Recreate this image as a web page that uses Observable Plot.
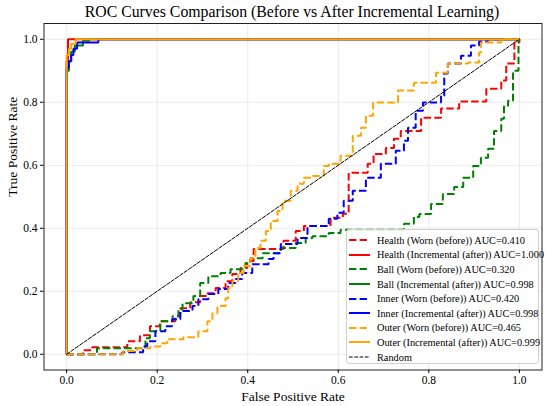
<!DOCTYPE html>
<html><head><meta charset="utf-8">
<script src="https://cdn.jsdelivr.net/npm/d3@7"></script>
<script src="https://cdn.jsdelivr.net/npm/@observablehq/plot@0.6"></script>
<style>
body{margin:0;background:#fff;font-family:"Liberation Serif","Times New Roman",serif;}
#wrap{position:relative;width:550px;height:406px;overflow:hidden;}
#title{height:22px;line-height:23px;text-align:center;font-size:15.8px;color:#000;padding-left:34px;box-sizing:border-box;white-space:nowrap;}
#legend{position:absolute;left:346px;top:229px;width:193px;height:135px;box-sizing:border-box;border:1px solid #d0d0d0;border-radius:3px;background:rgba(255,255,255,0.8);padding:3px 0 0 2px;}
.row{display:flex;align-items:center;height:14.6px;font-size:10.3px;color:#000;white-space:nowrap;}
.row svg{margin-right:7px;flex:none;}
</style></head><body>
<div id="wrap"><div id="title">ROC Curves Comparison (Before vs After Incremental Learning)</div><div id="chart"></div><div id="legend"></div></div>
<script>
// ROC points [FPR, TPR] (staircase corners, step-after)
const healthBefore = [[0,0],[0.036,0.013],[0.056,0.022],[0.134,0.041],[0.162,0.060],[0.184,0.089],[0.206,0.105],[0.240,0.121],[0.251,0.146],[0.273,0.165],[0.295,0.185],[0.311,0.194],[0.329,0.210],[0.351,0.232],[0.366,0.255],[0.384,0.274],[0.399,0.296],[0.413,0.334],[0.479,0.360],[0.506,0.391],[0.524,0.407],[0.583,0.433],[0.610,0.446],[0.623,0.576],[0.665,0.605],[0.678,0.636],[0.705,0.655],[0.723,0.684],[0.738,0.709],[0.783,0.751],[0.827,0.780],[0.867,0.802],[0.927,0.843],[0.960,0.869],[0.971,0.923],[0.989,0.990],[1,1]];
const healthAfter = [[0,0],[0,0.93],[0.003,1.0],[1,1]];
const ballBefore = [[0,0],[0.067,0.019],[0.174,0.051],[0.184,0.073],[0.207,0.105],[0.234,0.121],[0.247,0.143],[0.256,0.162],[0.280,0.185],[0.295,0.226],[0.313,0.248],[0.340,0.258],[0.362,0.270],[0.395,0.290],[0.406,0.305],[0.433,0.321],[0.473,0.337],[0.506,0.353],[0.528,0.369],[0.543,0.375],[0.579,0.385],[0.605,0.395],[0.745,0.414],[0.767,0.436],[0.779,0.445],[0.805,0.477],[0.831,0.509],[0.856,0.531],[0.876,0.560],[0.898,0.598],[0.915,0.624],[0.931,0.652],[0.944,0.709],[0.960,0.748],[0.966,0.789],[0.975,0.805],[0.986,0.900],[0.998,0.996],[1,1]];
const ballAfter = [[0,0],[0,0.90],[0.005,0.93],[0.010,0.96],[0.018,0.98],[0.036,0.995],[0.050,1.0],[1,1]];
const innerBefore = [[0,0],[0.123,0.006],[0.169,0.025],[0.178,0.041],[0.196,0.073],[0.218,0.089],[0.233,0.111],[0.251,0.137],[0.278,0.153],[0.291,0.175],[0.313,0.191],[0.335,0.207],[0.357,0.226],[0.373,0.239],[0.388,0.258],[0.410,0.286],[0.446,0.302],[0.457,0.321],[0.473,0.350],[0.510,0.369],[0.532,0.407],[0.579,0.430],[0.598,0.449],[0.612,0.487],[0.632,0.519],[0.661,0.560],[0.694,0.605],[0.727,0.646],[0.745,0.678],[0.754,0.719],[0.771,0.773],[0.787,0.799],[0.827,0.821],[0.834,0.891],[0.842,0.923],[0.871,0.948],[0.893,0.980],[0.911,0.993],[0.93,1.0],[1,1]];
const innerAfter = [[0,0],[0,0.91],[0.005,0.93],[0.010,0.95],[0.015,0.97],[0.023,0.99],[0.070,1.0],[1,1]];
const outerBefore = [[0,0],[0.125,0.010],[0.156,0.019],[0.185,0.025],[0.207,0.035],[0.222,0.048],[0.258,0.054],[0.291,0.073],[0.311,0.105],[0.322,0.130],[0.333,0.153],[0.351,0.178],[0.357,0.210],[0.366,0.232],[0.379,0.258],[0.391,0.280],[0.406,0.305],[0.417,0.337],[0.428,0.360],[0.440,0.391],[0.451,0.423],[0.466,0.455],[0.477,0.487],[0.495,0.519],[0.510,0.541],[0.524,0.560],[0.539,0.566],[0.568,0.598],[0.579,0.605],[0.605,0.630],[0.632,0.694],[0.650,0.719],[0.661,0.757],[0.677,0.799],[0.732,0.837],[0.767,0.862],[0.816,0.894],[0.842,0.923],[0.887,0.926],[0.911,0.958],[0.915,0.990],[0.960,1.0],[1,1]];
const outerAfter = [[0,0],[0,0.95],[0.005,0.97],[0.010,0.985],[0.020,1.0],[1,1]];
const randomLine = [[0,0],[1,1]];

const seriesNames = ["Health (Worn (before))","Health (Incremental (after))","Ball (Worn (before))","Ball (Incremental (after))","Inner (Worn (before))","Inner (Incremental (after))","Outer (Worn (before))","Outer (Incremental (after))"];
const aucValues = ["0.410","1.000","0.320","0.998","0.420","0.998","0.465","0.999"];
const seriesColors = ["#ff0000","#ff0000","#008000","#008000","#0000ff","#0000ff","#ffa500","#ffa500"];
const seriesPoints = [healthBefore,healthAfter,ballBefore,ballAfter,innerBefore,innerAfter,outerBefore,outerAfter];
const xTicks = [0,0.2,0.4,0.6,0.8,1.0];
const yTicks = [0,0.2,0.4,0.6,0.8,1.0];
const tickLabels = ["0.0","0.2","0.4","0.6","0.8","1.0"];
const fmt = (d,i) => tickLabels[xTicks.indexOf(d)] ?? (+d).toFixed(1);

const font = "Liberation Serif";
const marks = [
  Plot.gridX(xTicks,{stroke:"#e4e4e4",strokeOpacity:1,strokeWidth:0.8}),
  Plot.gridY(yTicks,{stroke:"#e4e4e4",strokeOpacity:1,strokeWidth:0.8}),
];
seriesPoints.forEach((pts,i)=>{
  const dashed = i%2===0;
  marks.push(Plot.line(pts,{x:d=>d[0],y:d=>d[1],curve:"step-after",stroke:seriesColors[i],strokeWidth:2,strokeDasharray:dashed?"7.4,3.2":null,strokeLinejoin:"miter",strokeLinecap:"butt"}));
});
marks.push(Plot.line(randomLine,{x:d=>d[0],y:d=>d[1],stroke:"#000",strokeWidth:1,strokeDasharray:"3.7,1.6"}));
marks.push(Plot.frame({stroke:"#222",strokeWidth:1}));
marks.push(Plot.axisX(xTicks,{tickFormat:fmt,tickSize:3.5,tickPadding:2.5,fontSize:11.5,label:null}));
marks.push(Plot.axisY(yTicks,{tickFormat:fmt,tickSize:3.5,tickPadding:3,fontSize:11.5,label:null}));
marks.push(Plot.text(["False Positive Rate"],{frameAnchor:"bottom",dy:26.5,fontSize:13.5,lineAnchor:"middle"}));
marks.push(Plot.text(["True Positive Rate"],{frameAnchor:"left",dx:-31,rotate:-90,fontSize:13.5,lineAnchor:"middle"}));

const chart = Plot.plot({
  width:550,height:384,
  marginLeft:43.5,marginRight:8.5,marginTop:1,marginBottom:36.5,
  x:{domain:[-0.05,1.05]},
  y:{domain:[-0.05,1.05]},
  style:{fontFamily:font,color:"#000",background:"#fff",overflow:"visible"},
  marks
});
document.getElementById("chart").appendChild(chart);

const leg = document.getElementById("legend");
const legendItems = seriesNames.map((n,i)=>({label:`${n} AUC=${aucValues[i]}`,color:seriesColors[i],dash:i%2===0?"7.4,3.2":"",w:2}));
legendItems.push({label:"Random",color:"#000",dash:"3.7,1.6",w:1});
for(const it of legendItems){
  const r=document.createElement("div");r.className="row";
  r.innerHTML=`<svg width="21" height="6"><line x1="0" x2="21" y1="3" y2="3" stroke="${it.color}" stroke-width="${it.w}" ${it.dash?`stroke-dasharray="${it.dash}"`:""}/></svg><span>${it.label}</span>`;
  leg.appendChild(r);
}
</script></body></html>
